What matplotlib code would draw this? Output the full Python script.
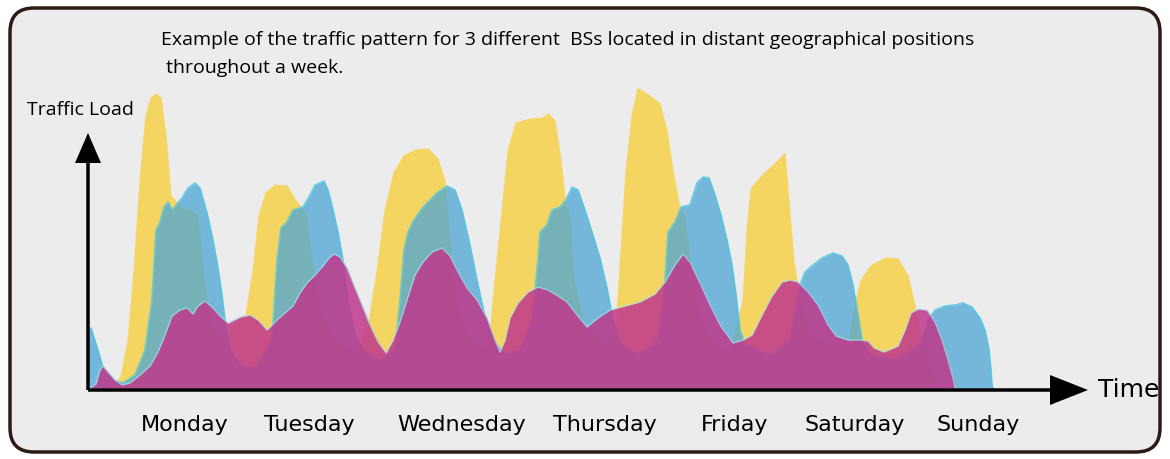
import matplotlib.pyplot as plt
from matplotlib.patches import FancyBboxPatch

# time in ~10-minute slots from the origin, load in arbitrary units
yellow_t = [12, 24, 32, 39, 45, 51, 57, 62, 68, 73, 78, 83, 92, 102, 110, 116, 124, 134, 144, 157,
            164, 170, 177, 187, 199, 208, 218, 224, 232, 247, 267, 272, 280, 288, 296, 305, 315, 327,
            340, 350, 357, 361, 367, 382, 400, 404, 412, 419, 427, 442, 454, 460, 467, 473, 478, 482,
            486, 497, 517, 527, 532, 537, 543, 549, 562, 572, 579, 585, 592, 597, 602, 612, 627, 642,
            654, 658, 662, 675, 687, 697, 701, 706, 712, 722, 742, 760, 767, 772, 782, 797, 810, 820,
            827, 832, 840, 847, 852]
yellow_load = [0, 2, 12, 48, 118, 208, 273, 291, 295, 291, 253, 193, 183, 178, 173, 108, 58, 48, 63, 74,
               118, 173, 196, 204, 203, 188, 175, 128, 78, 48, 36, 43, 66, 118, 178, 216, 233, 239,
               240, 230, 208, 158, 88, 48, 38, 88, 168, 238, 266, 270, 271, 275, 268, 228, 183, 173,
               108, 58, 43, 58, 138, 218, 273, 301, 293, 285, 258, 218, 181, 173, 128, 68, 43, 38,
               88, 158, 200, 215, 226, 236, 188, 128, 88, 53, 43, 48, 88, 108, 123, 131, 130, 113,
               83, 58, 28, 3, 0]

blue_t = [0, 3, 9, 15, 25, 35, 47, 57, 64, 68, 72, 76, 80, 84, 88, 94, 100, 107, 112, 119, 125, 130,
          134, 137, 142, 152, 167, 184, 189, 193, 199, 205, 215, 222, 227, 232, 236, 240, 245, 250,
          255, 260, 267, 277, 292, 307, 312, 316, 320, 326, 335, 349, 359, 367, 374, 382, 389, 396,
          405, 417, 432, 444, 450, 452, 459, 464, 472, 478, 484, 490, 497, 504, 512, 519, 525, 534,
          552, 570, 577, 580, 587, 593, 602, 609, 615, 621, 627, 633, 639, 644, 648, 652, 657, 682,
          702, 712, 717, 725, 734, 745, 754, 760, 765, 770, 774, 782, 807, 832, 840, 847, 857, 867,
          875, 884, 892, 897, 901, 903, 904, 905]
blue_load = [58, 60, 41, 21, 8, 5, 13, 38, 88, 158, 166, 181, 186, 178, 183, 190, 200, 205, 200, 175,
             148, 120, 93, 68, 38, 23, 20, 48, 128, 160, 166, 178, 181, 193, 203, 205, 207, 198, 178,
             156, 128, 88, 53, 36, 28, 38, 88, 138, 156, 168, 181, 195, 202, 198, 178, 143, 108, 76,
             48, 33, 38, 68, 128, 156, 163, 178, 181, 188, 201, 198, 178, 156, 130, 100, 68, 43,
             33, 48, 108, 156, 166, 181, 183, 205, 211, 210, 193, 173, 148, 123, 93, 58, 43, 33,
             48, 103, 116, 123, 130, 135, 132, 123, 103, 73, 48, 33, 28, 43, 68, 78, 82, 83,
             85, 81, 70, 58, 38, 18, 3, 0]

magenta_t = [2, 8, 12, 15, 20, 27, 34, 42, 52, 62, 70, 77, 84, 92, 99, 105, 110, 117, 125, 132, 140,
             152, 162, 170, 179, 189, 198, 205, 212, 219, 227, 235, 241, 246, 252, 259, 267, 274, 282,
             290, 298, 305, 312, 319, 327, 335, 344, 354, 362, 370, 379, 389, 399, 407, 412, 417, 422,
             430, 440, 450, 460, 470, 479, 489, 499, 510, 522, 537, 552, 567, 577, 587, 595, 602, 612,
             622, 632, 645, 655, 664, 674, 684, 694, 702, 710, 720, 730, 740, 748, 760, 772, 780, 786,
             796, 810, 817, 823, 830, 839, 847, 854, 860, 865, 867]
magenta_load = [0, 4, 18, 22, 16, 8, 3, 5, 13, 22, 36, 53, 72, 78, 80, 74, 82, 87, 80, 72, 65,
                71, 73, 68, 58, 68, 76, 82, 95, 105, 113, 122, 130, 134, 131, 120, 100, 83, 63,
                46, 35, 48, 66, 88, 113, 126, 136, 140, 132, 116, 100, 88, 70, 48, 36, 48, 70,
                85, 96, 101, 98, 92, 86, 73, 61, 70, 78, 82, 86, 94, 106, 123, 134, 126, 105,
                83, 63, 45, 48, 53, 73, 92, 106, 108, 106, 96, 83, 63, 52, 48, 48, 47, 40,
                36, 42, 58, 75, 79, 78, 66, 48, 28, 10, 0]

days = ['Monday', 'Tuesday', 'Wednesday', 'Thursday', 'Friday', 'Saturday', 'Sunday']
day_pos = [97, 221, 374, 517, 647, 767, 890]

title1 = 'Example of the traffic pattern for 3 different  BSs located in distant geographical positions'
title2 = ' throughout a week.'

fig = plt.figure(figsize=(11.7, 4.59), dpi=100)
ax = fig.add_axes([0, 0, 1, 1])
ax.set_xlim(-88, 1082)
ax.set_ylim(-71, 388)
ax.axis('off')

# rounded frame
frame = FancyBboxPatch((-78, -64), 1150, 444, boxstyle='round,pad=0,rounding_size=24',
                       facecolor='#ececec', edgecolor='#2b1b14', linewidth=2.5, zorder=0)
ax.add_patch(frame)

ax.fill_between(yellow_t, yellow_load, color='#f6d24a', alpha=0.85, linewidth=0, zorder=1)
ax.fill_between(blue_t, blue_load, color='#4ca6d4', alpha=0.75, linewidth=0, zorder=2)
ax.plot(blue_t, blue_load, color='#4fc6e4', lw=1.2, alpha=0.8, zorder=2)
ax.fill_between(magenta_t, magenta_load, color='#c0388c', alpha=0.85, linewidth=0, zorder=3)
ax.plot(magenta_t, magenta_load, color='#a8dcea', lw=1.0, alpha=0.7, zorder=3)

# axis arrows
ax.arrow(0, -2, 0, 257, width=3.5, head_width=26, head_length=30,
         length_includes_head=True, color='black', lw=0, zorder=5)
ax.arrow(0, -2, 1000, 0, width=3.5, head_width=30, head_length=38,
         length_includes_head=True, color='black', lw=0, zorder=5)

ax.text(1010, -2, 'Time', fontsize=18, va='center', ha='left', family='DejaVu Sans')
ax.text(-61, 278, 'Traffic Load', fontsize=14, va='center', ha='left', family='Open Sans')
ax.text(73, 348, title1, fontsize=14, va='center', ha='left', family='Open Sans')
ax.text(73, 320, title2, fontsize=14, va='center', ha='left', family='Open Sans')

for d, p in zip(days, day_pos):
    ax.text(p, -37, d, fontsize=16, ha='center', va='center', family='DejaVu Sans')

fig.savefig('out.png', dpi=100, facecolor='white')
